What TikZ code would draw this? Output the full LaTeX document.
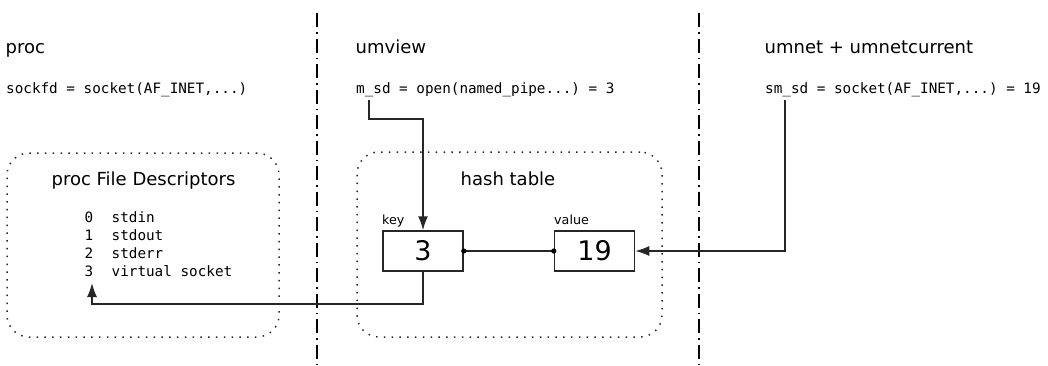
\documentclass[tikz,border=0pt]{standalone}
\usepackage{fontspec}
\setmainfont{DejaVu Sans}
\setmonofont{DejaVu Sans Mono}
\usetikzlibrary{arrows.meta}
\begin{document}
\begin{tikzpicture}[x=1pt,y=-1pt,
  title/.style={inner sep=0pt,anchor=base west,font=\fontsize{18}{22}\selectfont},
  code/.style={inner sep=0pt,anchor=base west,font=\ttfamily\fontsize{14.3}{17}\selectfont},
  small/.style={inner sep=0pt,anchor=base west,font=\fontsize{12.7}{15}\selectfont},
  dotbox/.style={draw=black!85,line width=1.5pt,dash pattern=on 1.5pt off 6.3pt,rounded corners=22pt},
  cell/.style={draw=black!85,line width=1.5pt,minimum width=80pt,minimum height=40pt,inner sep=0pt,font=\fontsize{27}{30}\selectfont},
  sep/.style={draw=black,line width=2pt,dash pattern=on 14pt off 5pt on 1.5pt off 5pt},
  link/.style={draw=black!85,line width=1.5pt},
  arr/.style={link,-{Latex[length=14pt,width=10pt]}},
  dot/.style={fill=black}]
\useasboundingbox (0,0) rectangle (1048,365);

% column separators
\draw[sep] (317,13) -- (317,365);
\draw[sep] (699,13) -- (699,365);

% column headings
\node[title] (tproc) at (5.5,53) {proc};
\node[title] (tumview) at (355.5,53) {umview};
\node[title] (tumnet) at (764.5,53) {umnet + umnetcurrent};

% system calls
\node[code] (cproc) at (6,93) {sockfd = socket(AF\_INET,...)};
\node[code] (cumview) at (356,93) {m\_sd = open(named\_pipe...) = 3};
\node[code] (cumnet) at (765,93) {sm\_sd = socket(AF\_INET,...) = 19};
\coordinate (msd) at (369,100);
\coordinate (smsd) at (785,100);

% process file descriptor table
\node[dotbox,minimum width=272pt,minimum height=184pt] (fdbox) at (143,245) {};
\node[title,anchor=base] (fdtitle) at (143.5,185) {proc File Descriptors};
\node[code] (n0) at (84.5,222) {0};
\node[code] (n1) at (84.5,240) {1};
\node[code] (n2) at (84.5,258) {2};
\node[code] (n3) at (84.5,276) {3};
\node[code] (d0) at (111.5,222) {stdin};
\node[code] (d1) at (111.5,240) {stdout};
\node[code] (d2) at (111.5,258) {stderr};
\node[code] (d3) at (111.5,276) {virtual socket};
\coordinate (fdin) at (92,283);

% hash table
\node[dotbox,minimum width=305pt,minimum height=185pt] (htbox) at (509.5,244.5) {};
\node[title,anchor=base] (httitle) at (508,185) {hash table};
\node[cell] (key) at (423,251) {3};
\node[cell] (val) at (594.5,251) {19};
\node[small] (keylbl) at (382,224) {key};
\node[small] (vallbl) at (554,224) {value};

% connections
\draw[link] (key.east) -- (val.west);
\fill[dot] (key.east) circle (2.6pt);
\fill[dot] (val.west) circle (2.6pt);
\draw[arr] (msd) -- ++(0,19) -| (key.north);
\draw[arr] (smsd) |- (val.east);
\draw[arr] (key.south) -- ++(0,32) -| (fdin);
\end{tikzpicture}
\end{document}
